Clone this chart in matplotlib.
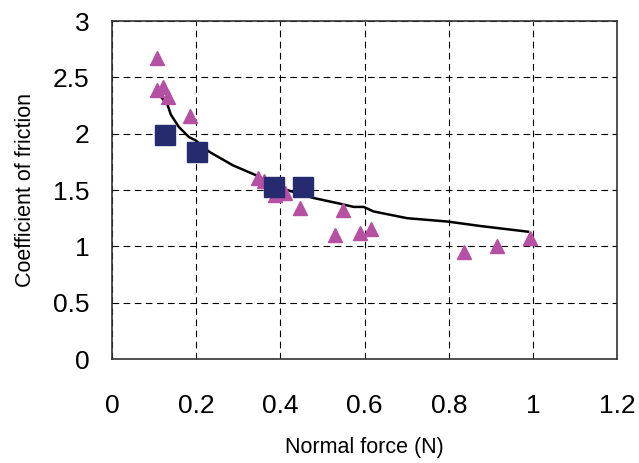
import matplotlib
matplotlib.use('Agg')
from matplotlib import pyplot as plt

# Measured points (triangles) and model points (squares)
tri_x = [0.108, 0.108, 0.121, 0.133, 0.186, 0.348, 0.362, 0.388, 0.410, 0.446,
         0.549, 0.531, 0.590, 0.616, 0.836, 0.915, 0.993]
tri_y = [2.67, 2.39, 2.41, 2.33, 2.16, 1.61, 1.58, 1.46, 1.47, 1.34,
         1.32, 1.10, 1.12, 1.15, 0.95, 1.00, 1.07]

sq_x = [0.126, 0.202, 0.386, 0.455]
sq_y = [1.99, 1.84, 1.53, 1.53]

# Fitted curve
fit_x = [0.116, 0.132, 0.140, 0.159, 0.183, 0.199, 0.231, 0.287, 0.343, 0.398,
         0.478, 0.540, 0.574, 0.598, 0.621, 0.701, 0.797, 0.876, 0.988]
fit_y = [2.33, 2.26, 2.17, 2.06, 1.97, 1.94, 1.84, 1.72, 1.63, 1.52,
         1.43, 1.38, 1.35, 1.35, 1.31, 1.25, 1.22, 1.18, 1.13]

plt.rcParams['font.family'] = ['Liberation Sans', 'DejaVu Sans']

fig = plt.figure(figsize=(6.39, 4.63), dpi=100)
ax = fig.add_axes([0.175, 0.2246, 0.791, 0.73])

ax.plot(fit_x, fit_y, c='black', lw=1.8, zorder=3)
ax.plot(tri_x, tri_y, ls='none', marker='^', ms=9.5, c='#b550a3', mec='#b550a3', zorder=4)
ax.plot(sq_x, sq_y, ls='none', marker='s', ms=14, c='#262a6e', mec='#262a6e', zorder=5)

ax.set_xlim(0, 1.2)
ax.set_ylim(0, 3)
ax.set_xticks([0, 0.2, 0.4, 0.6, 0.8, 1.0, 1.2])
ax.set_xticklabels(['0', '0.2', '0.4', '0.6', '0.8', '1', '1.2'])
ax.set_yticks([0, 0.5, 1, 1.5, 2, 2.5, 3])
ax.set_yticklabels(['0', '0.5', '1', '1.5', '2', '2.5', '3'])
ax.grid(True, c='black', ls=(0, (6, 4)), lw=0.8)
ax.tick_params(axis='both', length=0, labelsize=19)
ax.tick_params(axis='x', pad=25)
ax.tick_params(axis='y', pad=16)

for s in ax.spines.values():
    s.set_color('#333333')
    s.set_linewidth(1.2)

ax.set_xlabel('Normal force (N)', fontsize=15.5, labelpad=14)
ax.set_ylabel('Coefficient of friction', fontsize=15.5, labelpad=12)

fig.savefig('out.png', dpi=100)
